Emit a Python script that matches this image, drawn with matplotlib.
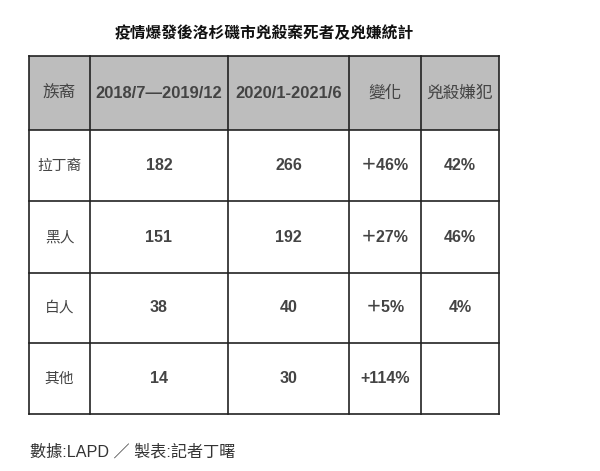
import matplotlib
matplotlib.use('Agg')
import matplotlib.pyplot as plt
from matplotlib.patches import Rectangle

fams = ['Liberation Sans', 'Noto Sans CJK TC', 'DejaVu Sans']
plt.rcParams['font.family'] = fams

title = '疫情爆發後洛杉磯市兇殺案死者及兇嫌統計'
headers = ['族裔', '2018/7—2019/12', '2020/1-2021/6', '變化', '兇殺嫌犯']
groups = ['拉丁裔', '黑人', '白人', '其他']
before = ['182', '151', '38', '14']
after = ['266', '192', '40', '30']
change = ['＋46%', '＋27%', '＋5%', '+114%']
suspects = ['42%', '46%', '4%', '']
footer = '數據:LAPD ／ 製表:記者丁曙'

# layout in pixels
col_x = [29, 90, 228, 349, 421, 499]
row_y = [56, 130, 201, 273, 343, 414]

fig = plt.figure(figsize=(6, 4.71), dpi=100)
ax = fig.add_axes([0, 0, 1, 1])
ax.set_xlim(0, 600)
ax.set_ylim(471, 0)
ax.axis('off')

ax.text(264, 33, title, ha='center', va='center', fontsize=11.3,
        family=['Noto Sans CJK TC'], color='#111111', fontweight='bold')

ax.add_patch(Rectangle((col_x[0], row_y[0]), col_x[-1] - col_x[0],
                       row_y[1] - row_y[0], facecolor='#bdbdbd', edgecolor='none'))

for x in col_x:
    ax.plot([x, x], [row_y[0], row_y[-1]], color='#222222', lw=1.2)
for y in row_y:
    ax.plot([col_x[0], col_x[-1]], [y, y], color='#222222', lw=1.2)

def cx(i):
    return (col_x[i] + col_x[i + 1]) / 2

def cy(j):
    return (row_y[j] + row_y[j + 1]) / 2

for i, h in enumerate(headers):
    bold = i in (1, 2)
    ax.text(cx(i), cy(0), h, ha='center', va='center',
            fontsize=11.9 if bold else 12, color='#444444',
            fontweight='bold' if bold else 'normal')

rows = list(zip(groups, before, after, change, suspects))
for j, r in enumerate(rows):
    for i, v in enumerate(r):
        ax.text(cx(i), cy(j + 1), v, ha='center', va='center',
                fontsize=10.6 if i == 0 else 11.5, color='#444444',
                fontweight='normal' if i == 0 else 'bold')

ax.text(col_x[0] + 1, 452, footer, ha='left', va='center', fontsize=11.6,
        color='#333333')

fig.savefig('out.png', dpi=100)
